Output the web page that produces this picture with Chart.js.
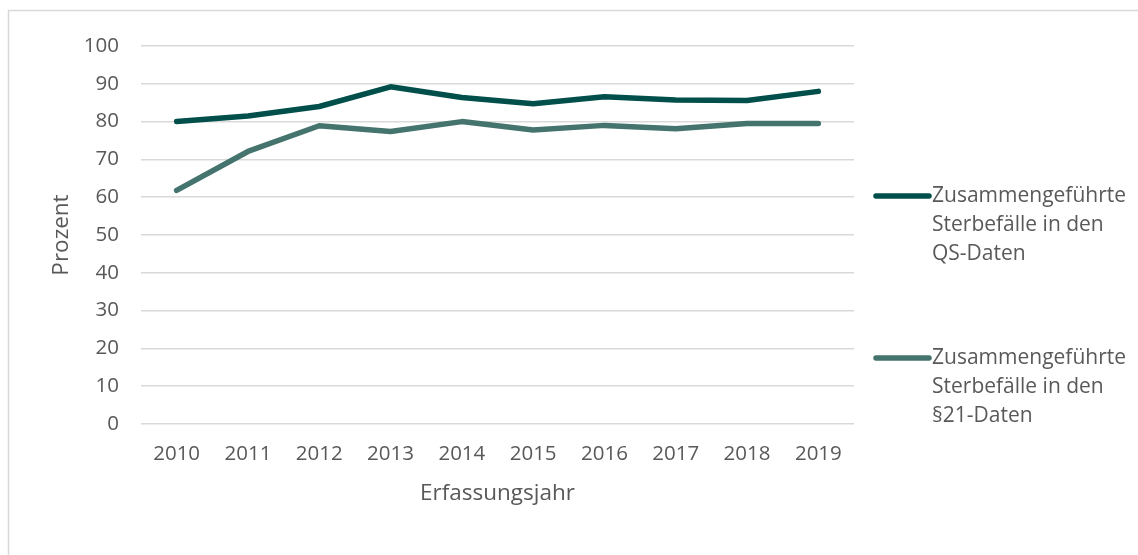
<!DOCTYPE html>
<html>
<head>
<meta charset="utf-8">
<script src="https://cdn.jsdelivr.net/npm/chart.js@4.4.1/dist/chart.umd.min.js"></script>
<style>
  html, body { margin: 0; padding: 0; background: #fff; }
  #wrap { width: 1138px; height: 555px; position: relative; }
</style>
</head>
<body>
<div id="wrap"><canvas id="lineChart" width="1138" height="555"></canvas></div>
<script>
// Chart data
const years = ['2010', '2011', '2012', '2013', '2014', '2015', '2016', '2017', '2018', '2019'];
const qsDaten = [80.0, 81.5, 84.0, 89.2, 86.4, 84.7, 86.6, 85.7, 85.6, 88.0];
const p21Daten = [61.8, 72.1, 78.9, 77.4, 80.0, 77.8, 79.0, 78.1, 79.5, 79.5];
const legendLabels = [
    ['Zusammengeführte', 'Sterbefälle in den', 'QS-Daten'],
    ['Zusammengeführte', 'Sterbefälle in den', '§21-Daten']
];
const yTicks = [0, 10, 20, 30, 40, 50, 60, 70, 80, 90, 100];

const textColor = '#595959';
const fontFamily = "'Open Sans', sans-serif";

// Outer frame like the exported office chart
const framePlugin = {
    id: 'frame',
    beforeDraw(chart) {
        const ctx = chart.ctx;
        ctx.save();
        ctx.strokeStyle = '#d9d9d9';
        ctx.lineWidth = 1.5;
        ctx.strokeRect(8.5, 10.5, chart.width + 20, chart.height + 20);
        ctx.restore();
    }
};

// Multi-line legend on the right
const sideLegend = {
    id: 'sideLegend',
    afterDraw(chart) {
        const ctx = chart.ctx;
        const startY = [196, 358];
        ctx.save();
        ctx.font = `21px ${fontFamily}`;
        ctx.textBaseline = 'middle';
        chart.data.datasets.forEach((ds, i) => {
            const y = startY[i];
            ctx.strokeStyle = ds.borderColor;
            ctx.lineWidth = 5.5;
            ctx.lineCap = 'round';
            ctx.beginPath();
            ctx.moveTo(876, y);
            ctx.lineTo(929, y);
            ctx.stroke();
            ctx.fillStyle = textColor;
            legendLabels[i].forEach((line, j) => {
                ctx.fillText(line, 932, y + j * 29);
            });
        });
        ctx.restore();
    }
};

new Chart(document.getElementById('lineChart'), {
    type: 'line',
    data: {
        labels: years,
        datasets: [
            {
                label: legendLabels[0].join(' '),
                data: qsDaten,
                borderColor: '#004f4a',
                borderWidth: 5.5,
                borderCapStyle: 'round',
                borderJoinStyle: 'round',
                pointRadius: 0,
                tension: 0
            },
            {
                label: legendLabels[1].join(' '),
                data: p21Daten,
                borderColor: '#44746d',
                borderWidth: 5.5,
                borderCapStyle: 'round',
                borderJoinStyle: 'round',
                pointRadius: 0,
                tension: 0
            }
        ]
    },
    options: {
        responsive: false,
        animation: false,
        layout: { padding: { top: 46, right: 284, left: 0, bottom: 0 } },
        scales: {
            x: {
                offset: true,
                grid: { display: false, drawTicks: false },
                border: { display: false },
                ticks: { color: textColor, font: { family: fontFamily, size: 20.5 }, padding: 18, maxRotation: 0 },
                title: { display: true, text: 'Erfassungsjahr', color: textColor, font: { family: fontFamily, size: 22.5 }, padding: { bottom: 48 } },
                afterFit(scale) { scale.height = 131; }
            },
            y: {
                min: 0,
                max: 100,
                afterBuildTicks(scale) { scale.ticks = yTicks.map(v => ({ value: v })); },
                grid: { color: '#d9d9d9', lineWidth: 1.5, drawTicks: false },
                border: { display: false },
                ticks: { color: textColor, font: { family: fontFamily, size: 20.5 }, padding: 22 },
                title: { display: true, text: 'Prozent', color: textColor, font: { family: fontFamily, size: 22.5 }, padding: { top: 48 } },
                afterFit(scale) { scale.width = 141; }
            }
        },
        plugins: {
            legend: { display: false },
            tooltip: { enabled: false }
        }
    },
    plugins: [framePlugin, sideLegend]
});
</script>
</body>
</html>
